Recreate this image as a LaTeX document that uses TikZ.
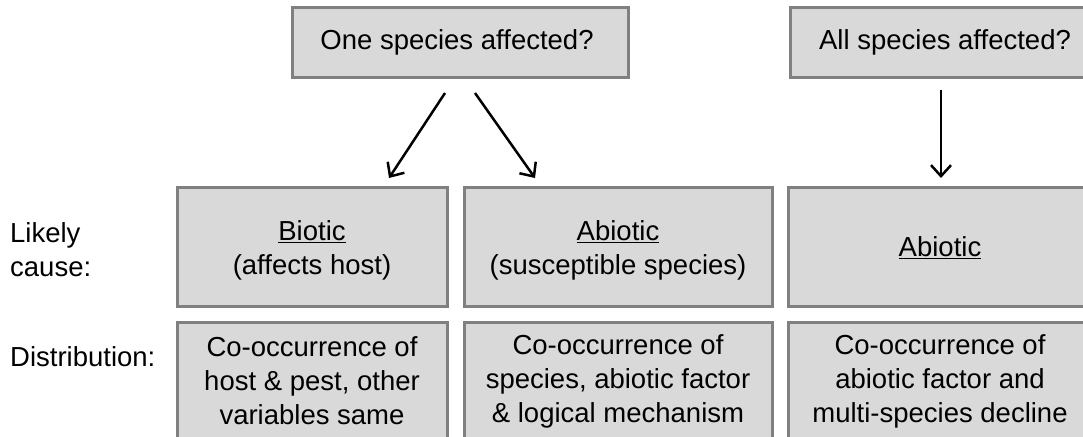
\documentclass[tikz,border=0pt]{standalone}
\usepackage{fontspec}
\setmainfont{Liberation Sans}
\usetikzlibrary{arrows.meta}
\begin{document}
\begin{tikzpicture}[x=1pt,y=-1pt,
  box/.style={draw=boxgray,fill=boxfill,line width=3pt,inner sep=0pt},
  txt/.style={font=\fontsize{27.5}{34}\selectfont,align=center,inner sep=0pt},
  lbl/.style={font=\fontsize{27.5}{34}\selectfont,align=left,anchor=west,inner sep=0pt},
  arr/.style={line width=2.5pt,-{Straight Barb[length=11pt,width=20pt,line width=2.5pt]}}]
\definecolor{boxgray}{RGB}{128,128,128}
\definecolor{boxfill}{RGB}{217,217,217}
\useasboundingbox (0,0) rectangle (1083,436);
\begin{scope}
\clip (0,0) rectangle (1083,436);
% question boxes
\draw[box] (292,8) rectangle (628,77);
\draw[box] (790,8) rectangle (1100,77);
% likely cause boxes
\draw[box] (177,187) rectangle (447,306);
\draw[box] (464,187) rectangle (772,306);
\draw[box] (788,187) rectangle (1100,306);
% distribution boxes
\draw[box] (177,322) rectangle (447,460);
\draw[box] (464,322) rectangle (772,460);
\draw[box] (788,322) rectangle (1100,460);
\end{scope}
% texts
\node[txt] (q1) at (457,42) {One species affected?};
\node[txt] (q2) at (945,42) {All species affected?};
\node[txt] (c1) at (312,250) {\underline{Biotic}\\(affects host)};
\node[txt] (c2) at (618,250) {\underline{Abiotic}\\(susceptible species)};
\node[txt] (c3) at (940,248) {\underline{Abiotic}};
\node[txt] (d1) at (312,381) {Co-occurrence of\\host \& pest, other\\variables same};
\node[txt] (d2) at (618,381) {Co-occurrence of\\species, abiotic factor\\\& logical mechanism};
\node[txt] (d3) at (940,381) {Co-occurrence of\\abiotic factor and\\multi-species decline};
\node[lbl] (l1) at (10,250) {Likely\\cause:};
\node[lbl] (l2) at (10,357) {Distribution:};
% arrows
\coordinate (s1) at (445,93);
\coordinate (e1) at (389,178);
\coordinate (s2) at (475,93);
\coordinate (e2) at (535,178);
\coordinate (s3) at (941,90);
\coordinate (e3) at (941,178);
\draw[arr] (s1) -- (e1);
\draw[arr] (s2) -- (e2);
\draw[arr] (s3) -- (e3);
\end{tikzpicture}
\end{document}
